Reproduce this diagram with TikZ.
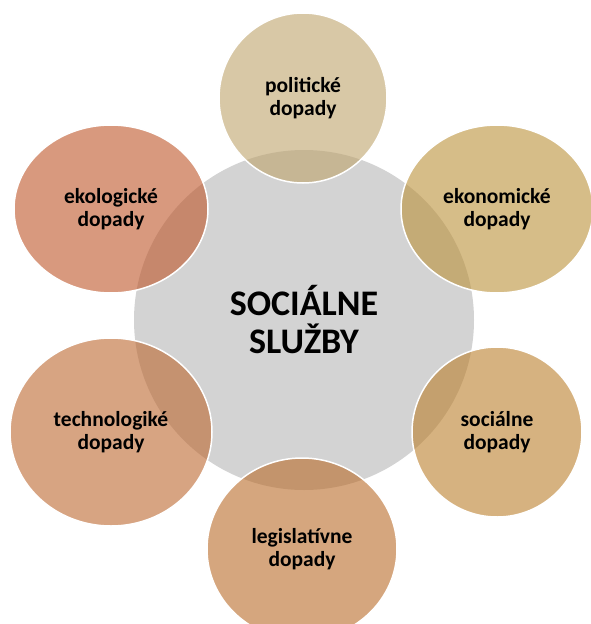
\documentclass[tikz,border=0pt]{standalone}
\usepackage{fontspec}
\setmainfont{Carlito}
\usetikzlibrary{shapes.geometric}
\definecolor{hubgrey}{RGB}{211,211,211}
\definecolor{politcol}{RGB}{190,163,107}
\definecolor{ekonocol}{RGB}{187,145,57}
\definecolor{socialcol}{RGB}{187,127,43}
\definecolor{legiscol}{RGB}{185,107,40}
\definecolor{technocol}{RGB}{188,103,47}
\definecolor{ekolocol}{RGB}{190,85,40}
\tikzset{
	every node/.style={align=center,inner sep=0pt},
	hub/.style={circle, fill=hubgrey, minimum size=340pt, font=\bfseries\fontsize{36}{38}\selectfont},
	impact/.style={ellipse, draw=white, line width=1.5pt, fill opacity=0.6, text opacity=1,
		font=\bfseries\fontsize{21.5}{23.5}\selectfont}
}

\begin{document}
\begin{tikzpicture}[x=1pt,y=-1pt]
	\useasboundingbox (0,0) rectangle (591,624);
	\clip (0,0) rectangle (591,624);
	
	% Centre
	\node (hub) [hub] at (304,320) {SOCIÁLNE\\SLUŽBY};
	
	% Impacts
	\node (polit) [impact, fill=politcol, minimum width=168pt, minimum height=170pt] at (303,98) {politické\\dopady};
	\node (ekono) [impact, fill=ekonocol, minimum width=192pt, minimum height=168pt] at (497,209) {ekonomické\\dopady};
	\node (social) [impact, fill=socialcol, minimum width=170pt, minimum height=170pt] at (497,432) {sociálne\\dopady};
	\node (legis) [impact, fill=legiscol, minimum width=190pt, minimum height=182pt] at (302,549) {legislatívne\\dopady};
	\node (techno) [impact, fill=technocol, minimum width=202pt, minimum height=188pt] at (111,432) {technologiké\\dopady};
	\node (ekolo) [impact, fill=ekolocol, minimum width=194pt, minimum height=168pt] at (111,209) {ekologické\\dopady};
	
\end{tikzpicture}
\end{document}
